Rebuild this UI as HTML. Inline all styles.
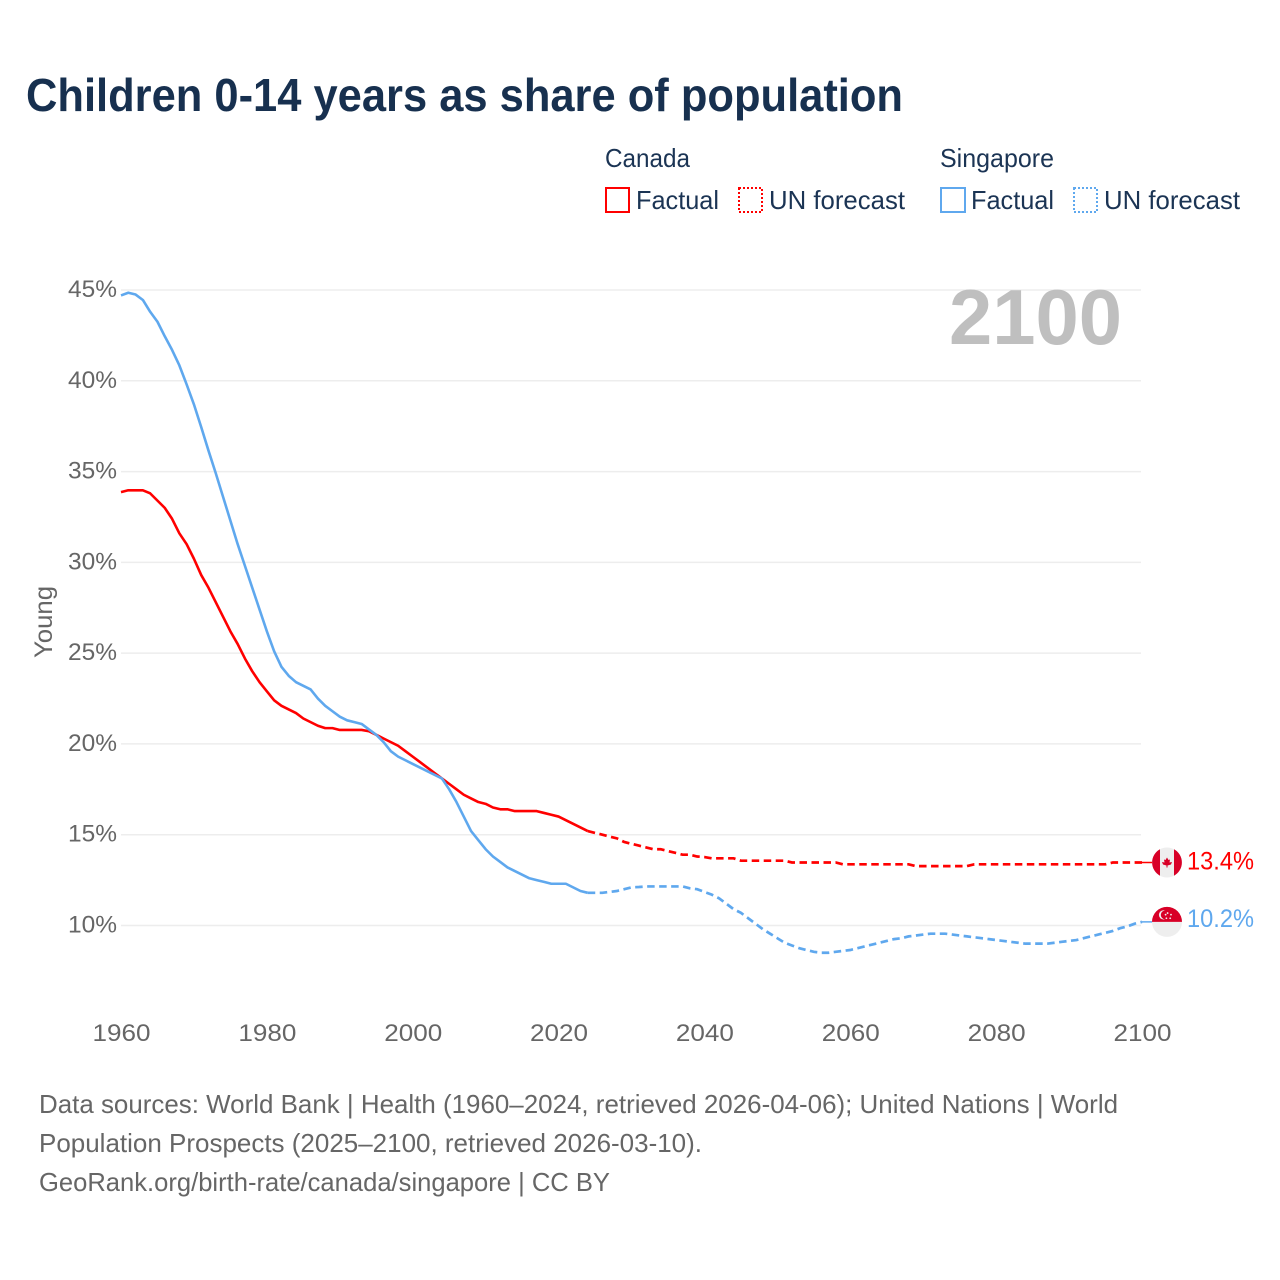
<!DOCTYPE html>
<html lang="en">
<head>
<meta charset="utf-8">
<title>Children 0-14 years as share of population</title>
<style>
html,body{margin:0;padding:0;background:#fff;width:1280px;height:1280px;overflow:hidden}
svg{display:block;font-family:"Liberation Sans",sans-serif}
</style>
</head>
<body>
<svg id="chart" xmlns="http://www.w3.org/2000/svg" width="1280" height="1280" viewBox="0 0 1280 1280">
  <rect x="0" y="0" width="1280" height="1280" fill="#fff"/>
  <text x="26" y="111" font-size="46" font-weight="700" fill="#17304f" textLength="877" lengthAdjust="spacingAndGlyphs">Children 0-14 years as share of population</text>

  <g font-size="26" fill="#1b3454">
    <text x="605" y="167" textLength="85" lengthAdjust="spacingAndGlyphs">Canada</text>
    <rect x="606" y="188" width="23" height="24" fill="none" stroke="#ff0000" stroke-width="2"/>
    <text x="636" y="209" textLength="83" lengthAdjust="spacingAndGlyphs">Factual</text>
    <rect x="739" y="188" width="23" height="24" fill="none" stroke="#ff0000" stroke-width="2" stroke-dasharray="2 2"/>
    <text x="769" y="209" textLength="136" lengthAdjust="spacingAndGlyphs">UN forecast</text>
    <text x="940" y="167" textLength="114" lengthAdjust="spacingAndGlyphs">Singapore</text>
    <rect x="941" y="188" width="24" height="24" fill="none" stroke="#5fa8ee" stroke-width="2"/>
    <text x="971" y="209" textLength="83" lengthAdjust="spacingAndGlyphs">Factual</text>
    <rect x="1074" y="188" width="23" height="24" fill="none" stroke="#5fa8ee" stroke-width="2" stroke-dasharray="2 2"/>
    <text x="1104" y="209" textLength="136" lengthAdjust="spacingAndGlyphs">UN forecast</text>
  </g>

  <g id="grid"></g>
  <g id="yticks"></g>
  <g id="xticks"></g>
  <text x="949" y="344" font-size="78" font-weight="700" fill="#bfbfbf" textLength="173" lengthAdjust="spacingAndGlyphs">2100</text>
  <text transform="translate(52,622) rotate(-90)" text-anchor="middle" font-size="25" fill="#666" textLength="72" lengthAdjust="spacingAndGlyphs">Young</text>
  <g id="series"></g>
  <g id="ends"></g>

  <g font-size="26" fill="#666">
    <text x="39" y="1113" textLength="1079" lengthAdjust="spacingAndGlyphs">Data sources: World Bank | Health (1960–2024, retrieved 2026-04-06); United Nations | World</text>
    <text x="39" y="1152" textLength="663" lengthAdjust="spacingAndGlyphs">Population Prospects (2025–2100, retrieved 2026-03-10).</text>
    <text x="39" y="1191" textLength="571" lengthAdjust="spacingAndGlyphs">GeoRank.org/birth-rate/canada/singapore | CC BY</text>
  </g>
</svg>
<script>
const startYear = 1960;
const lastFactualYear = 2024;
const yTickValues = [10, 15, 20, 25, 30, 35, 40, 45];
const yTickLabels = ["10%", "15%", "20%", "25%", "30%", "35%", "40%", "45%"];
const xTickValues = [1960, 1980, 2000, 2020, 2040, 2060, 2080, 2100];
const canadaValues = [
33.87,33.97,33.97,33.97,33.8,33.4,33.0,32.4,31.6,31.0,
30.2,29.3,28.6,27.8,27.0,26.2,25.5,24.7,24.0,23.4,
22.9,22.4,22.1,21.9,21.7,21.4,21.2,21.0,20.87,20.87,
20.77,20.77,20.77,20.77,20.7,20.5,20.3,20.1,19.9,19.6,
19.3,19.0,18.7,18.4,18.1,17.8,17.5,17.2,17.0,16.8,
16.7,16.5,16.4,16.4,16.3,16.3,16.3,16.3,16.2,16.1,
16.0,15.8,15.6,15.4,15.2,15.1,15.0,14.9,14.8,14.6,
14.5,14.4,14.3,14.2,14.2,14.1,14.0,13.9,13.9,13.8,
13.77,13.7,13.7,13.7,13.7,13.57,13.57,13.57,13.57,13.57,
13.57,13.57,13.47,13.47,13.47,13.47,13.47,13.47,13.47,13.37,
13.37,13.37,13.37,13.37,13.37,13.37,13.37,13.37,13.37,13.27,
13.27,13.27,13.27,13.27,13.27,13.27,13.27,13.37,13.37,13.37,
13.37,13.37,13.37,13.37,13.37,13.37,13.37,13.37,13.37,13.37,
13.37,13.37,13.37,13.37,13.37,13.37,13.47,13.47,13.47,13.47,13.47];
const singaporeValues = [
44.7,44.85,44.75,44.45,43.8,43.25,42.45,41.7,40.85,39.8,
38.7,37.45,36.15,34.9,33.6,32.3,31.0,29.8,28.6,27.4,
26.2,25.1,24.25,23.75,23.4,23.2,23.0,22.5,22.1,21.8,
21.5,21.3,21.2,21.1,20.8,20.5,20.1,19.6,19.3,19.1,
18.9,18.7,18.5,18.3,18.1,17.5,16.8,16.0,15.2,14.7,
14.2,13.8,13.5,13.2,13.0,12.8,12.6,12.5,12.4,12.3,
12.3,12.3,12.1,11.9,11.8,11.8,11.8,11.85,11.9,12.0,
12.1,12.12,12.15,12.15,12.15,12.15,12.15,12.15,12.05,12.0,
11.85,11.7,11.5,11.2,10.9,10.7,10.4,10.1,9.8,9.55,
9.3,9.05,8.9,8.75,8.65,8.55,8.5,8.5,8.55,8.6,
8.65,8.75,8.85,8.95,9.05,9.15,9.25,9.3,9.4,9.45,
9.5,9.55,9.55,9.55,9.5,9.45,9.4,9.35,9.3,9.25,
9.2,9.15,9.1,9.05,9.0,9.0,9.0,9.0,9.05,9.1,
9.15,9.2,9.3,9.4,9.5,9.6,9.7,9.85,9.95,10.1,10.2];
const canadaEndLabel = "13.4%";
const singaporeEndLabel = "10.2%";

const NS = "http://www.w3.org/2000/svg";
const xScale = year => 121 + (year - 1960) * (1142 - 121) / 140;
const yScale = value => 925.5 - (value - 10) * (925.5 - 290) / 35;
const FLAG_X = 1167;

function make(parent, tag, attrs, text) {
  const el = document.createElementNS(NS, tag);
  for (const k in attrs) el.setAttribute(k, attrs[k]);
  if (text !== undefined) el.textContent = text;
  parent.appendChild(el);
  return el;
}

const gridG = document.getElementById("grid");
const yG = document.getElementById("yticks");
const xG = document.getElementById("xticks");
const seriesG = document.getElementById("series");
const endsG = document.getElementById("ends");

yTickValues.forEach((v, i) => {
  const line = make(gridG, "line", {x1: 121, x2: 1141, y1: yScale(v), y2: yScale(v), stroke: "#ededed", "stroke-width": 1.5});
  
  
  const label = make(yG, "text", {x: 117, y: yScale(v) + 7, "text-anchor": "end", "font-size": 24, fill: "#666", textLength: 49, lengthAdjust: "spacingAndGlyphs"}, yTickLabels[i]);
  
  
});

xTickValues.forEach(year => {
  const label = make(xG, "text", {x: xScale(year) + 0.5, y: 1041, "text-anchor": "middle", "font-size": 24, fill: "#666", textLength: 58, lengthAdjust: "spacingAndGlyphs"}, String(year));
  
  
});

function pathFor(values, from, to) {
  let d = "";
  for (let yr = from; yr <= to; yr++) {
    d += (d ? "L" : "M") + xScale(yr).toFixed(2) + " " + yScale(values[yr - startYear]).toFixed(2);
  }
  return d;
}

function drawSeries(values, color) {
  const endYear = startYear + values.length - 1;
  const lastY = yScale(values[values.length - 1]);
  const link = make(seriesG, "line", {x1: xScale(endYear), x2: FLAG_X, y1: lastY, y2: lastY, stroke: color, "stroke-width": 1.5});
  
  
  const forecast = make(seriesG, "path", {d: pathFor(values, lastFactualYear, endYear), fill: "none", stroke: color, "stroke-width": 2.7, "stroke-dasharray": "7.5 4.5"});
  
  
  const factual = make(seriesG, "path", {d: pathFor(values, startYear, lastFactualYear), fill: "none", stroke: color, "stroke-width": 2.6, "stroke-linejoin": "round"});
  
  
}
drawSeries(canadaValues, "#ff0000");
drawSeries(singaporeValues, "#5fa8ee");

function endLabel(value, text, color, offset) {
  const label = make(endsG, "text", {x: 1187, y: yScale(value) + offset, "font-size": 25, fill: color, textLength: 67, lengthAdjust: "spacingAndGlyphs"}, text);
  
  
}

/* Canada flag */
const caY = yScale(canadaValues[canadaValues.length - 1]);
const caFlag = make(endsG, "g", {transform: "translate(" + FLAG_X + "," + caY + ")"});


make(caFlag, "circle", {r: 15, fill: "#eeeeee"});
make(caFlag, "path", {d: "M-7 -13.2A15 15 0 0 0 -7 13.2Z", fill: "#d80027"});
make(caFlag, "path", {d: "M7 -13.2A15 15 0 0 1 7 13.2Z", fill: "#d80027"});
make(caFlag, "path", {d: "M0 -5L1.5 -2.5L3 -3L2.5 0L5 -.5L4 2L.5 3V5H-.5V3L-4 2L-5 -.5L-2.5 0L-3 -3L-1.5 -2.5Z", fill: "#d80027"});
endLabel(canadaValues[canadaValues.length - 1], canadaEndLabel, "#ff0000", 7);

/* Singapore flag */
const sgY = yScale(singaporeValues[singaporeValues.length - 1]);
const sgFlag = make(endsG, "g", {transform: "translate(" + FLAG_X + "," + sgY + ")"});


make(sgFlag, "circle", {r: 15, fill: "#eeeeee"});
make(sgFlag, "path", {d: "M-15 0A15 15 0 0 1 15 0Z", fill: "#d80027"});
make(sgFlag, "circle", {cx: -3.5, cy: -7, r: 4.6, fill: "#eeeeee"});
make(sgFlag, "circle", {cx: -1.8, cy: -7, r: 4.4, fill: "#d80027"});
[[0, -10], [3.4, -8.4], [2.6, -4.8], [-1.2, -4.8], [-2, -8.4]].forEach(p => {
  make(sgFlag, "circle", {cx: p[0] + .6, cy: p[1] + 1.2, r: .9, fill: "#eeeeee"});
});
endLabel(singaporeValues[singaporeValues.length - 1], singaporeEndLabel, "#5fa8ee", 5);
</script>
</body>
</html>
